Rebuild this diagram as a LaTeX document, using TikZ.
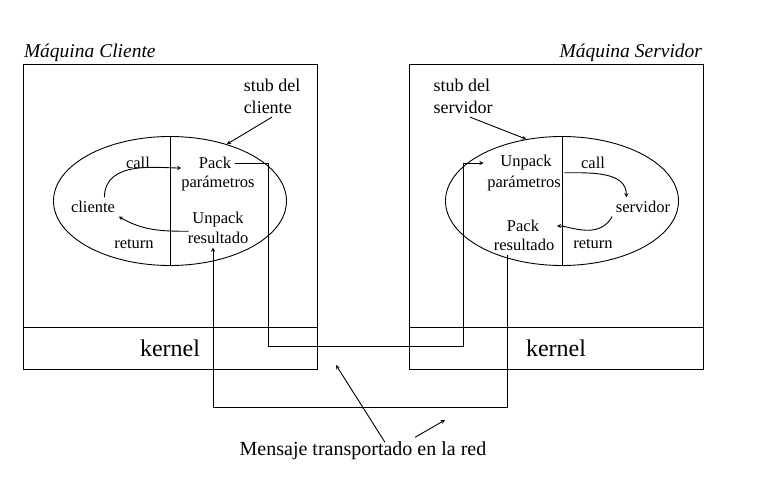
\documentclass[tikz,border=0pt]{standalone}
\usepackage{fontspec}
\setmainfont{Liberation Serif}
\usetikzlibrary{shapes,arrows,positioning,shapes.geometric}

\begin{document}
\begin{tikzpicture}[x=1pt, y=1pt, >=stealth, line width=0.9pt,
    txt/.style={font=\fontsize{16.5}{19}\selectfont},
    note/.style={font=\fontsize{18}{22}\selectfont, align=left},
    box/.style={draw, rectangle, minimum width=294pt, inner sep=0pt},
    kern/.style={box, minimum height=42pt, font=\fontsize{24}{28}\selectfont},
    stub/.style={draw, ellipse, minimum width=233pt, minimum height=129pt, inner sep=0pt},
    title/.style={font=\fontsize{19.5}{24}\selectfont\itshape, inner sep=1pt}]

    \useasboundingbox (0,0) rectangle (762,499);

    % maquinas
    \node[box, minimum height=263pt] (clientbox) at (170,303.5) {};
    \node[kern] (clientkernel) at (170,151) {kernel};
    \node[box, minimum height=263pt] (serverbox) at (556,303.5) {};
    \node[kern] (serverkernel) at (556,151) {kernel};
    \node[title, anchor=south west] (clienttitle) at (clientbox.north west) {Máquina Cliente};
    \node[title, anchor=south east] (servertitle) at (serverbox.north east) {Máquina Servidor};

    % stubs
    \node[stub] (clientstub) at (170,298) {};
    \draw (clientstub.north) -- (clientstub.south);
    \node[stub] (serverstub) at (562,298) {};
    \draw (serverstub.north) -- (serverstub.south);
    \node[note] (clientstubtxt) at (272,403) {stub del\\cliente};
    \node[note] (serverstubtxt) at (463,403) {stub del\\servidor};
    \draw[->] (clientstubtxt.south) -- (clientstub.45);
    \draw[->] ([xshift=7pt]serverstubtxt.south) -- (serverstub.120);

    % lado cliente
    \node[txt] (cliente) at (93,292) {cliente};
    \node[txt] (clientcall) at (138,336) {call};
    \node[txt] (clientreturn) at (134,255) {return};
    \node[txt] (pack) at (215,336) {Pack};
    \node[txt] (packparam) at (218,315) {parámetros};
    \node[txt] (unpackres) at (218,279) {Unpack};
    \node[txt] (clientres) at (218,261) {resultado};
    \draw[->, shorten >=14pt] (cliente.40) to[out=90, in=180] ([yshift=-5pt]pack.west);
    \draw[->] (unpackres.south west) to[out=180, in=-30] (cliente.south east);

    % lado servidor
    \node[txt] (servidor) at (643,292) {servidor};
    \node[txt] (servercall) at (593,336) {call};
    \node[txt] (serverreturn) at (593,255) {return};
    \node[txt] (unpack) at (526,336) {Unpack};
    \node[txt] (unpackparam) at (524,315) {parámetros};
    \node[txt] (packres) at (523,273) {Pack};
    \node[txt] (serverres) at (524,254) {resultado};
    \draw[->] (unpackparam.north east) to[out=0, in=90] (servidor.150);
    \draw[->, shorten >=14pt] (servidor.south west) to[out=-120, in=0] (packres.east);

    % red
    \coordinate (req1) at (268,153);
    \coordinate (req2) at (463,153);
    \coordinate (rep1) at (507,92);
    \coordinate (rep2) at (213,92);
    \draw[->] (pack.east) -| (req1) -- (req2) |- (unpackparam.west |- unpack);
    \draw[->] (serverres.south -| rep1) -- (rep1) -- (rep2) -- (clientres.south -| rep2);

    \node[txt, font=\fontsize{20}{24}\selectfont, anchor=base] (msg) at (363,44) {Mensaje transportado en la red};
    \coordinate (msgtip1) at (336,134);
    \coordinate (msgtip2) at (445,79);
    \draw[->] ([xshift=22pt, yshift=-5pt]msg.north) -- (msgtip1);
    \draw[->] ([xshift=52pt]msg.north) -- (msgtip2);
\end{tikzpicture}
\end{document}
